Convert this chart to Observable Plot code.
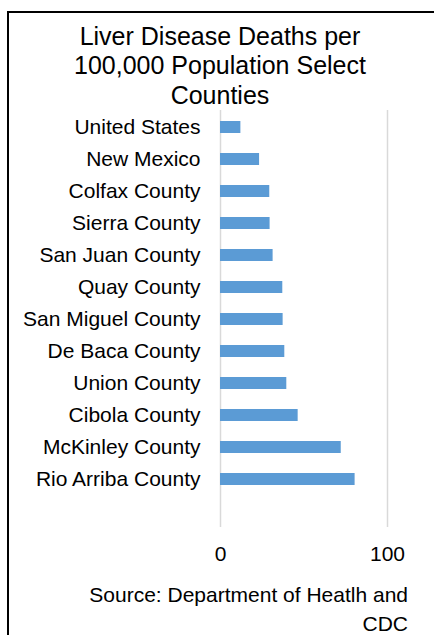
<!DOCTYPE html>
<html><head><meta charset="utf-8">
<script src="https://cdn.jsdelivr.net/npm/d3@7"></script>
<script src="https://cdn.jsdelivr.net/npm/@observablehq/plot@0.6"></script>
<style>
html,body{margin:0;padding:0;width:434px;height:635px;overflow:hidden;background:#fff;font-family:"Liberation Sans",Arial,sans-serif;}
#frame{position:absolute;left:7px;top:10.5px;width:460px;height:660px;border:2px solid #000;box-sizing:border-box;}
#title{position:absolute;left:0;width:440px;top:21.6px;text-align:center;font-size:25px;line-height:29.5px;color:#000;}
#chart{position:absolute;left:0;top:100px;}
#caption{position:absolute;right:26px;top:579.7px;text-align:right;font-size:21px;line-height:29.5px;color:#000;white-space:nowrap;}
</style></head><body>
<div id="frame"></div>
<div id="title">Liver Disease Deaths per<br>100,000 Population Select<br>Counties</div>
<div id="chart"></div>
<div id="caption">Source: Department of Heatlh and<br>CDC</div>
<script>
const categories = ["United States","New Mexico","Colfax County","Sierra County","San Juan County","Quay County","San Miguel County","De Baca County","Union County","Cibola County","McKinley County","Rio Arriba County"];
const values = [12.2, 23.4, 29.5, 29.7, 31.5, 37.3, 37.5, 38.5, 39.7, 46.5, 72.3, 80.6];
const xTicks = [0, 100];
const data = categories.map((c, i) => ({category: c, value: values[i]}));
const plot = Plot.plot({
  width: 434, height: 470,
  marginLeft: 220, marginRight: 47, marginTop: 10, marginBottom: 43,
  style: {fontFamily: "Liberation Sans, Arial, sans-serif", fontSize: "21px", color: "#000", background: "transparent", overflow: "visible"},
  x: {domain: [0, 100], axis: null},
  y: {domain: categories, range: [9.9, 395.6], paddingInner: 0.64, paddingOuter: 0.32, axis: null},
  marks: [
    Plot.ruleX(xTicks, {stroke: "#d9d9d9", strokeWidth: 1.5}),
    Plot.barX(data, {x: "value", y: "category", fill: "#5b9bd5"}),
    Plot.axisX(xTicks, {tickSize: 0, tickPadding: 19, fontSize: 21, label: null, fill: "#000"}),
    Plot.axisY({tickSize: 0, tickPadding: 20, fontSize: 21, label: null, fill: "#000"})
  ]
});
document.getElementById("chart").appendChild(plot);
</script>
</body></html>
